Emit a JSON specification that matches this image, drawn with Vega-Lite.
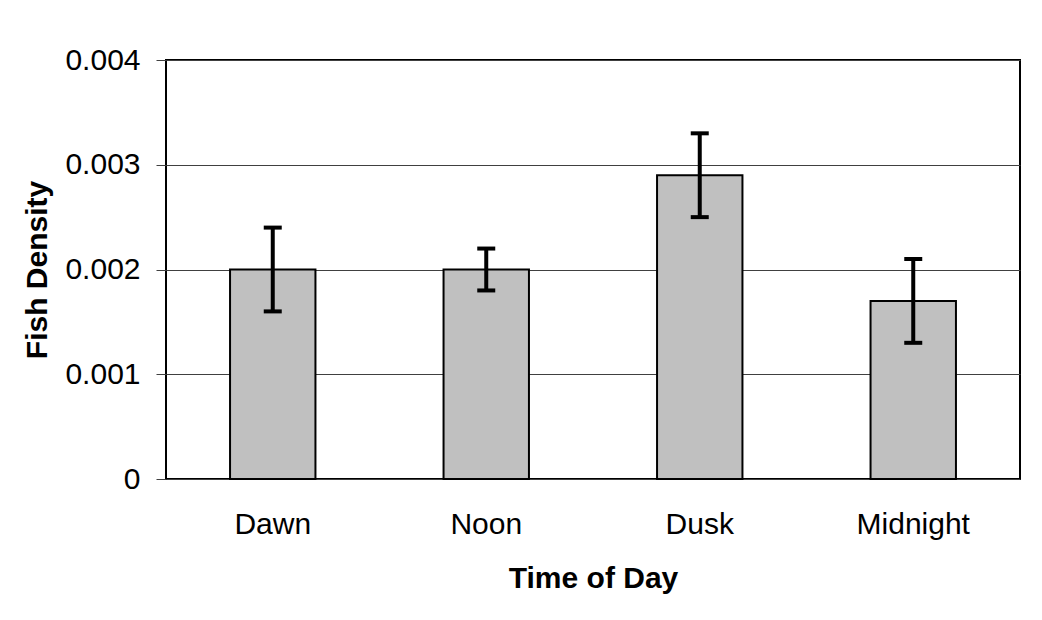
{
  "$schema": "https://vega.github.io/schema/vega-lite/v6.json",
  "width": 854,
  "height": 419,
  "autosize": "none",
  "padding": {"left": 166, "top": 60, "right": 22, "bottom": 141},
  "background": "white",
  "config": {
    "font": "Liberation Sans",
    "view": {"stroke": "black", "strokeWidth": 2}
  },
  "data": {
    "values": [
      {"time": "Dawn", "density": 0.002, "lo": 0.0016, "hi": 0.0024},
      {"time": "Noon", "density": 0.002, "lo": 0.0018, "hi": 0.0022},
      {"time": "Dusk", "density": 0.0029, "lo": 0.0025, "hi": 0.0033},
      {"time": "Midnight", "density": 0.0017, "lo": 0.0013, "hi": 0.0021}
    ]
  },
  "encoding": {
    "x": {
      "field": "time",
      "type": "nominal",
      "sort": null,
      "scale": {"paddingInner": 0, "paddingOuter": 0},
      "axis": {
        "title": "Time of Day",
        "labelAngle": 0,
        "labelFontSize": 30,
        "labelColor": "black",
        "labelPadding": 30,
        "ticks": false,
        "domain": false,
        "titleFontSize": 30,
        "titleFontWeight": "bold",
        "titleColor": "black",
        "titlePadding": 24
      }
    }
  },
  "layer": [
    {
      "mark": {"type": "bar", "fill": "#c0c0c0", "stroke": "black", "strokeWidth": 2, "width": {"band": 0.4}},
      "encoding": {
        "y": {
          "field": "density",
          "type": "quantitative",
          "scale": {"domain": [0, 0.004]},
          "axis": {
            "title": "Fish Density",
            "values": [0, 0.001, 0.002, 0.003, 0.004],
            "format": "~g",
            "labelFontSize": 30,
            "labelColor": "black",
            "labelPadding": 16,
            "tickSize": 10,
            "tickColor": "#404040",
            "domain": false,
            "grid": true,
            "gridColor": "#404040",
            "gridWidth": 1,
            "titleFontSize": 30,
            "titleFontWeight": "bold",
            "titleColor": "black",
            "titlePadding": 12
          }
        }
      }
    },
    {
      "mark": {"type": "rule", "color": "black", "strokeWidth": 4},
      "encoding": {
        "y": {"field": "lo", "type": "quantitative"},
        "y2": {"field": "hi"}
      }
    },
    {
      "mark": {"type": "tick", "color": "black", "orient": "horizontal", "size": 18, "thickness": 4, "opacity": 1},
      "encoding": {"y": {"field": "lo", "type": "quantitative"}}
    },
    {
      "mark": {"type": "tick", "color": "black", "orient": "horizontal", "size": 18, "thickness": 4, "opacity": 1},
      "encoding": {"y": {"field": "hi", "type": "quantitative"}}
    }
  ]
}
